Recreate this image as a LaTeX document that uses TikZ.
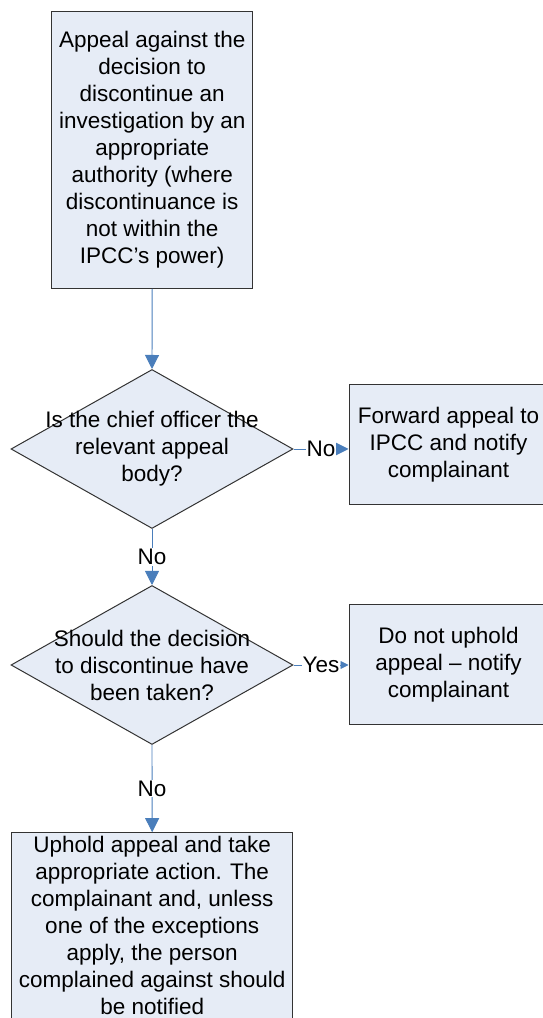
\documentclass[tikz,border=0pt]{standalone}
\usepackage{fontspec}
\setmainfont{Liberation Sans}
\usepackage{tikz}
\usetikzlibrary{arrows.meta,shapes.geometric}
\definecolor{cfill}{HTML}{E6ECF6}
\definecolor{cline}{HTML}{4A7EBB}
\definecolor{cedge}{HTML}{333333}
\tikzset{>={Triangle[length=14pt,width=14pt]}}
\tikzset{
  procbox/.style={draw=cedge,fill=cfill,line width=1pt,inner sep=0pt,align=center},
  decision/.style={draw=cedge,fill=cfill,shape=diamond,line width=1pt,inner sep=0pt,
    minimum width=282pt,minimum height=159pt},
  qtext/.style={align=center,inner sep=0pt},
  flow/.style={->,cline,line width=0.9pt},
  lbl/.style={fill=white,text=black,inner sep=1pt}
}

\begin{document}
\begin{tikzpicture}[x=1pt,y=1pt,font=\fontsize{22.5}{27}\selectfont]
\useasboundingbox (0,0) rectangle (543,1018);
\clip (0,0) rectangle (543,1018);

% ===== main column =====
\node[procbox,minimum width=201pt,minimum height=276.6pt] (appeal) at (152.2,868)
  {Appeal against the\\decision to\\discontinue an\\investigation by an\\appropriate\\authority (where\\discontinuance is\\not within the\\IPCC’s power)};

\node[decision] (q1) at (152,569) {};
\node[qtext] (q1text) at (q1) {Is the chief officer the\\relevant appeal\\body?};

\node[decision] (q2) at (152,353) {};
\node[qtext] (q2text) at (q2) {Should the decision\\to discontinue have\\been taken?};

\node[procbox,minimum width=281pt,minimum height=186pt] (uphold) at (152.2,92.3)
  {Uphold appeal and take\\appropriate action. The\\complainant and, unless\\one of the exceptions\\apply, the person\\complained against should\\be notified};

% ===== side boxes =====
\node[procbox,minimum width=199pt,minimum height=120.3pt] (forward) at (448.5,573.2)
  {Forward appeal to\\IPCC and notify\\complainant};
\node[procbox,minimum width=199pt,minimum height=120.3pt] (noupheld) at (448.5,353.2)
  {Do not uphold\\appeal – notify\\complainant};

% ===== connectors =====
\draw[flow] (appeal.south) -- (q1.north);
\draw[flow] (q1.east) -- node[lbl]{No} (q1.east -| forward.west);
\draw[flow] (q1.south) -- node[lbl]{No} (q2.north);
\draw[flow,-{Triangle[length=8pt,width=8pt]}] (q2.east) -- node[lbl]{Yes} (q2.east -| noupheld.west);
\draw[flow] (q2.south) -- node[lbl]{No} (uphold.north);

\end{tikzpicture}
\end{document}
